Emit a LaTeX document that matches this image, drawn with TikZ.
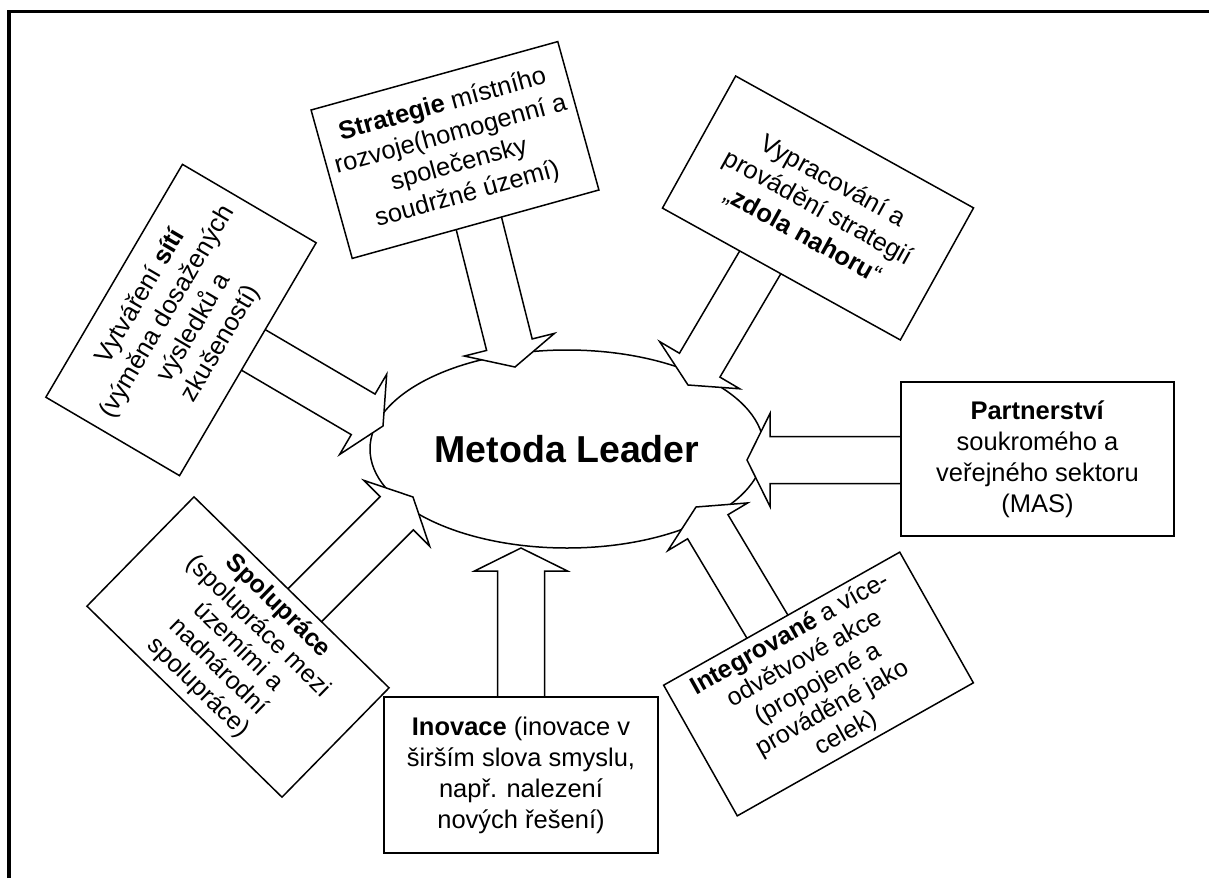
\documentclass[tikz,border=0pt]{standalone}
\usepackage{fontspec}
\setmainfont{Liberation Sans}
\usetikzlibrary{shapes.geometric,calc}
\tikzset{
  boxnode/.style={draw, line width=1.5pt, fill=white, align=center, inner sep=0pt,
    minimum width=273pt, minimum height=154pt, font=\fontsize{25.5}{31}\selectfont},
  boxfive/.style={boxnode, font=\fontsize{25}{28.5}\selectfont},
  blockarrow/.style={draw, line width=1.5pt, fill=white, line join=miter},
  ellnode/.style={ellipse, draw, line width=1.5pt, fill=white, inner sep=0pt,
    minimum width=394pt, minimum height=198pt, font=\fontsize{37.5}{40}\selectfont\bfseries},
  frame/.style={line width=3.5pt}
}
\newcommand{\blockarr}[3]{%
  \coordinate (#1h) at ($(#3)!23pt!(#2)$);
  \draw[blockarrow] ($(#2)!23.5pt!90:(#3)$) -- ($(#1h)!23.5pt!90:(#3)$)
    -- ($(#1h)!46.5pt!90:(#3)$) -- (#3) -- ($(#1h)!46.5pt!-90:(#3)$)
    -- ($(#1h)!23.5pt!-90:(#3)$) -- ($(#2)!23.5pt!-90:(#3)$) -- cycle;
}
\begin{document}
\begin{tikzpicture}[x=1pt, y=-1pt]
\useasboundingbox (0,0) rectangle (1209,878);
\fill[white] (0,0) rectangle (1209,878);
% frame
\coordinate (fbl) at (9,878);
\coordinate (ftl) at (9,11.5);
\coordinate (ftr) at (1209,11.5);
\draw[frame] (fbl) -- (ftl) -- (ftr);

% central ellipse
\node[ellnode] (ell) at (567,449) {Metoda Leader};

% arrow end points
\coordinate (sA) at (476,212); \coordinate (tA) at (515,367);
\coordinate (sB) at (764,256); \coordinate (tB) at (688,385);
\coordinate (sC) at (245,345); \coordinate (tC) at (383,426);
\coordinate (sD) at (296,614); \coordinate (tD) at (413,497);
\coordinate (sE) at (521,705); \coordinate (tE) at (521,548);
\coordinate (sF) at (773,636); \coordinate (tF) at (696,507);
\coordinate (sG) at (910,460); \coordinate (tG) at (747,460);

\blockarr{aA}{sA}{tA}
\blockarr{aB}{sB}{tB}
\blockarr{aC}{sC}{tC}
\blockarr{aD}{sD}{tD}
\blockarr{aE}{sE}{tE}
\blockarr{aF}{sF}{tF}
\blockarr{aG}{sG}{tG}

% boxes
\node[boxnode, rotate=15.5, minimum width=256pt] (strat) at (455,150)
  {\textbf{Strategie} místního\\rozvoje(homogenní a\\společensky\\soudržné území)};
\node[boxnode, rotate=-29, minimum width=272pt, minimum height=151pt] (vyp) at (818,208)
  {Vypracování a\\provádění strategií\\„\textbf{zdola nahoru}“};
\node[boxnode, rotate=59.6, minimum width=270pt, minimum height=155pt] (vytv) at (181,320)
  {Vytváření \textbf{sítí}\\(výměna dosažených\\výsledků a\\zkušeností)};
\node[boxfive, rotate=-44.4, minimum height=153pt] (spol) at (238,647)
  {\textbf{Spolupráce}\\(spolupráce mezi\\územími a\\nadnárodní\\spolupráce)};
\node[boxnode, minimum width=274pt, minimum height=156pt] (inov) at (521,775)
  {\textbf{Inovace} (inovace v\\širším slova smyslu,\\např. nalezení\\nových řešení)};
\node[boxfive, rotate=29.4, minimum width=271pt, minimum height=150pt] (integ) at (818.5,684)
  {\textbf{Integrované} a více-\\odvětvové akce\\(propojené a\\prováděné jako\\celek)};
\node[boxnode] (partn) at (1037.5,459)
  {\textbf{Partnerství}\\soukromého a\\veřejného sektoru\\(MAS)};
\end{tikzpicture}
\end{document}
